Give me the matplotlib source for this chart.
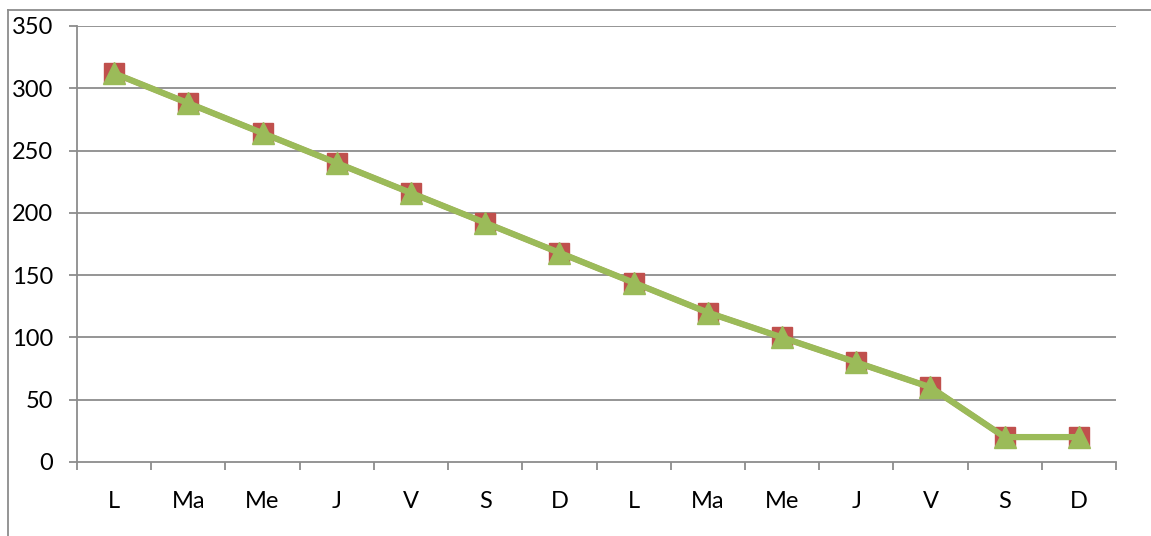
import matplotlib
matplotlib.use("Agg")
import matplotlib.pyplot as plt
from matplotlib.lines import Line2D
import numpy as np

days = ["L", "Ma", "Me", "J", "V", "S", "D", "L", "Ma", "Me", "J", "V", "S", "D"]
series_red = [312, 288, 264, 240, 216, 192, 168, 144, 120, 100, 80, 60, 20, 20]
series_green = [312, 288, 264, 240, 216, 192, 168, 144, 120, 100, 80, 60, 20, 20]
y_ticks = [0, 50, 100, 150, 200, 250, 300, 350]

RED = "#C0504D"
GREEN = "#9BBB59"
GRAY = "#8C8C8C"

plt.rcParams["font.family"] = ["Lato", "DejaVu Sans"]

fig = plt.figure(figsize=(11.51, 5.36), dpi=100)
ax = fig.add_axes([77 / 1151, 1 - 462 / 536, (1116 - 77) / 1151, (462 - 26) / 536])

x = np.arange(len(days))
ax.plot(x, series_red, color=RED, lw=4, marker="s", ms=14, mec=RED, mfc=RED, zorder=3)
ax.plot(x, series_green, color=GREEN, lw=4.5, marker="^", ms=16, mec=GREEN, mfc=GREEN, zorder=4)

ax.set_xlim(-0.5, len(days) - 0.5)
ax.set_ylim(0, 350)
ax.set_yticks(y_ticks)
ax.set_xticks(x)
ax.set_xticklabels(days)
ax.set_xticks(np.arange(-0.5, len(days)), minor=True)

for v in y_ticks[1:]:
    ax.axhline(v, color=GRAY, lw=1.3, zorder=1)

for side in ("top", "right"):
    ax.spines[side].set_visible(False)
for side in ("left", "bottom"):
    ax.spines[side].set_color(GRAY)
    ax.spines[side].set_linewidth(1.3)

ax.tick_params(axis="y", direction="out", length=6, width=1.3, color=GRAY, pad=11, labelsize=17)
ax.tick_params(axis="x", which="major", length=0, pad=21, labelsize=17)
ax.tick_params(axis="x", which="minor", direction="out", length=6, width=1.3, color=GRAY)

# outer chart frame
fig.add_artist(Line2D([8 / 1151, 8 / 1151], [0, 1 - 10 / 536], transform=fig.transFigure, color=GRAY, lw=1.3))
fig.add_artist(Line2D([8 / 1151, 1], [1 - 10 / 536, 1 - 10 / 536], transform=fig.transFigure, color=GRAY, lw=1.3))

fig.savefig("out.png", dpi=100)
